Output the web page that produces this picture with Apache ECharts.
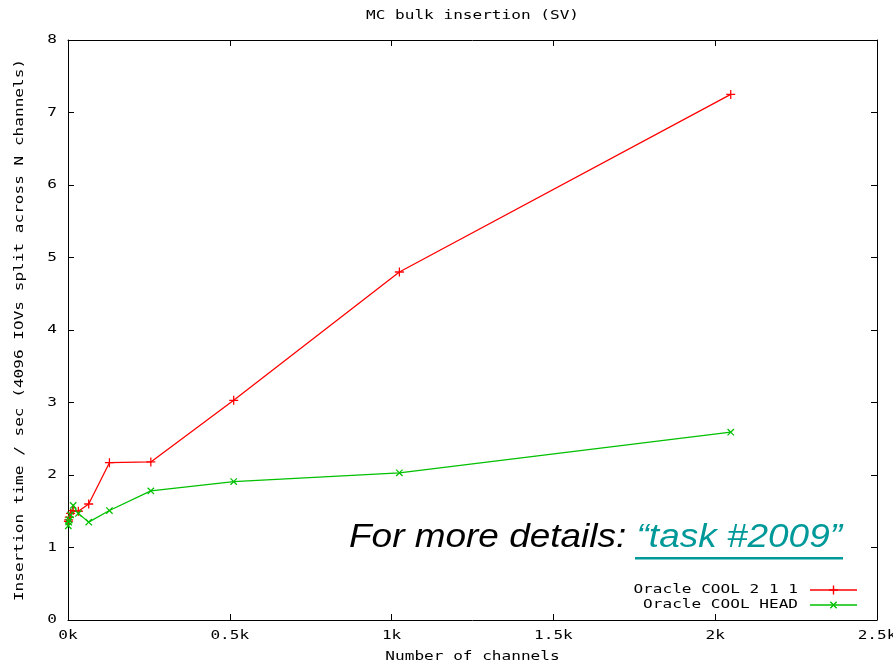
<!DOCTYPE html>
<html>
<head>
<meta charset="utf-8">
<script src="https://cdn.jsdelivr.net/npm/echarts@6/dist/echarts.min.js"></script>
<style>html,body{margin:0;padding:0;background:#fff}#c{width:893px;height:665px}</style>
</head>
<body>
<div id="c"></div>
<script>
const channels = [1, 2, 4, 8, 16, 32, 64, 128, 256, 512, 1024, 2048];
const cool211 = [1.36, 1.38, 1.42, 1.47, 1.51, 1.50, 1.60, 2.17, 2.18, 3.03, 4.80, 7.25];
const coolHead = [1.30, 1.35, 1.38, 1.45, 1.58, 1.47, 1.35, 1.51, 1.78, 1.91, 2.03, 2.59];
const seriesNames = ['Oracle COOL 2 1 1', 'Oracle COOL HEAD'];
const seriesColors = ['#ff0000', '#00c000'];
const xTicks = [0, 500, 1000, 1500, 2000, 2500];
const yTicks = [0, 1, 2, 3, 4, 5, 6, 7, 8];
const titleText = 'MC bulk insertion (SV)';
const xLabel = 'Number of channels';
const yLabel = 'Insertion time / sec (4096 IOVs split across N channels)';

const mono = 'DejaVu Sans Mono';
const SX = 1.34; // horizontal stretch of the bitmap-like font
const plusPath = 'path://M4.3,0H5.7V4.3H10V5.7H5.7V10H4.3V5.7H0V4.3H4.3Z';
const chart = echarts.init(document.getElementById('c'));
const axisCommon = {
  axisLine: {onZero: false, lineStyle: {color: '#000', width: 1}},
  axisTick: {inside: true, length: 6, lineStyle: {color: '#000'}},
  axisLabel: {show: false},
  splitLine: {show: false}
};
const ax = (o) => Object.assign({}, axisCommon, o);
chart.setOption({
  animation: false,
  backgroundColor: '#fff',
  grid: {left: 68, right: 16, top: 40, bottom: 45},
  xAxis: [
    ax({type: 'value', min: 0, max: 2500, interval: 500}),
    ax({type: 'value', position: 'top', min: 0, max: 2500, interval: 500})
  ],
  yAxis: [
    ax({type: 'value', min: 0, max: 8, interval: 1}),
    ax({type: 'value', position: 'right', min: 0, max: 8, interval: 1})
  ],
  series: [
    {name: seriesNames[0], type: 'line', data: channels.map((c, i) => [c, cool211[i]]),
      symbol: plusPath, symbolSize: 9, showAllSymbol: true,
      lineStyle: {color: seriesColors[0], width: 1.3}, itemStyle: {color: seriesColors[0]}},
    {name: seriesNames[1], type: 'line', data: channels.map((c, i) => [c, coolHead[i]]),
      symbol: plusPath, symbolSize: 9, symbolRotate: 45, showAllSymbol: true,
      lineStyle: {color: seriesColors[1], width: 1.3}, itemStyle: {color: seriesColors[1]}}
  ]
});

function monoText(text, x, y, align, rotation) {
  return {type: 'text', x: x, y: y, scaleX: SX, rotation: rotation || 0, silent: true,
    style: {text: text, fontFamily: mono, fontSize: 12, fill: '#000',
      align: align || 'center', verticalAlign: 'middle'}};
}
const g = [];
const plotCx = chart.convertToPixel({xAxisIndex: 0}, 1250);
const plotCy = chart.convertToPixel({yAxisIndex: 0}, 4);
g.push(monoText(titleText, plotCx, 16, 'center'));
g.push(monoText(xLabel, plotCx, 657, 'center'));
g.push(monoText(yLabel, 20, plotCy, 'center', Math.PI / 2));
xTicks.forEach(v => g.push(monoText((v / 1000) + 'k', chart.convertToPixel({xAxisIndex: 0}, v), 636, 'center')));
yTicks.forEach(v => g.push(monoText(String(v), 57, chart.convertToPixel({yAxisIndex: 0}, v), 'right')));
// legend (sample line + marker drawn as polygons)
const h = 4.5, t = 0.7;
const plusPts = [[-t,-h],[t,-h],[t,-t],[h,-t],[h,t],[t,t],[t,h],[-t,h],[-t,t],[-h,t],[-h,-t],[-t,-t]];
const legY = [590, 605];
seriesNames.forEach((n, i) => {
  g.push(monoText(n, 798, legY[i], 'right'));
  g.push({type: 'line', silent: true, shape: {x1: 810, y1: legY[i], x2: 857, y2: legY[i]},
    style: {stroke: seriesColors[i], lineWidth: 1.3}});
  g.push({type: 'polygon', silent: true, x: 833.5, y: legY[i],
    rotation: i === 1 ? Math.PI / 4 : 0,
    shape: {points: plusPts}, style: {fill: seriesColors[i]}});
});
// annotation
g.push({type: 'text', x: 349, y: 521, scaleX: 1.12, silent: true, style: {
  text: '{a|For more details: }{b|\u201Ctask #2009\u201D}',
  rich: {
    a: {fontFamily: 'Liberation Sans', fontStyle: 'italic', fontSize: 33, fill: '#000'},
    b: {fontFamily: 'Liberation Sans', fontStyle: 'italic', fontSize: 33, fill: '#009999'}
  }}});
g.push({type: 'rect', silent: true, shape: {x: 635, y: 557, width: 208, height: 2.5}, style: {fill: '#009999'}});
chart.setOption({graphic: g});
</script>
</body>
</html>
